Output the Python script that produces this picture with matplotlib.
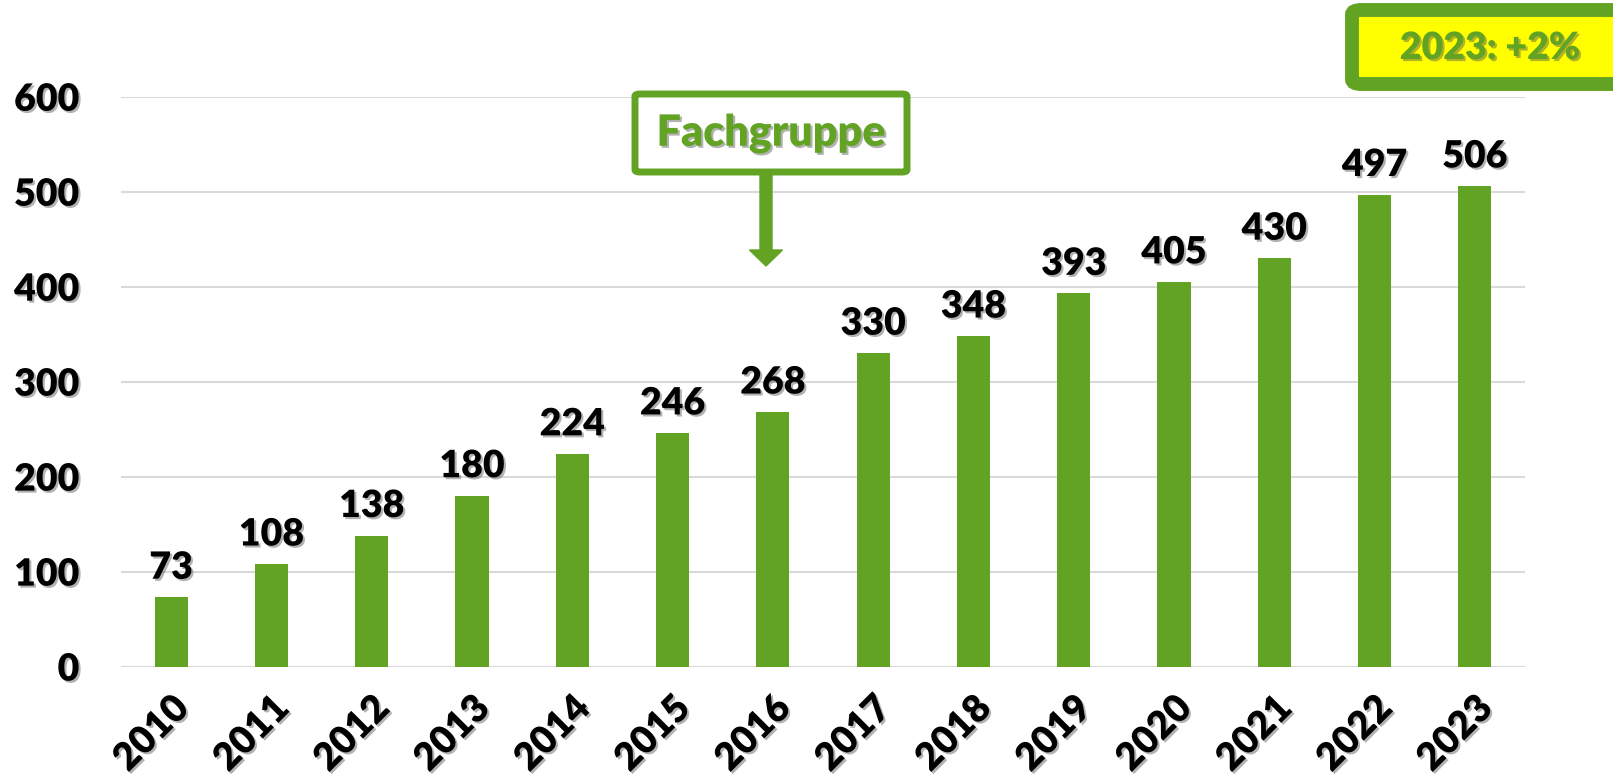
import matplotlib.pyplot as plt
import matplotlib.patheffects as pe
from matplotlib.patches import FancyBboxPatch, FancyArrow

# data
years = ['2010', '2011', '2012', '2013', '2014', '2015', '2016',
         '2017', '2018', '2019', '2020', '2021', '2022', '2023']
members = [73, 108, 138, 180, 224, 246, 268, 330, 348, 393, 405, 430, 497, 506]
y_ticks = [0, 100, 200, 300, 400, 500, 600]

green = '#62A323'
font = 'Lato'
weight = 'heavy'
shadow = [pe.withSimplePatchShadow(offset=(1.5, -1.5), shadow_rgbFace='#555555', alpha=0.45)]

W, H = 1613, 782
fig = plt.figure(figsize=(W / 100, H / 100), dpi=100)
ax = fig.add_axes([121 / W, 1 - 666.6 / H, (1525 - 121) / W, (666.6 - 96.7) / H])

x = range(len(years))
ax.bar(x, members, width=0.33, color=green, zorder=3)
ax.set_xlim(-0.5, len(years) - 0.5)
ax.set_ylim(0, 600)
ax.set_yticks(y_ticks)
ax.set_xticks(list(x))
ax.set_xticklabels(years, rotation=45, ha='right', rotation_mode='anchor')
ax.grid(axis='y', color='#D9D9D9', linewidth=1.5, zorder=0)
for s in ax.spines.values():
    s.set_visible(False)
ax.tick_params(length=0)
ax.tick_params(axis='y', pad=30)
ax.tick_params(axis='x', pad=17)
for lab in ax.get_xticklabels() + ax.get_yticklabels():
    lab.set_fontfamily(font)
    lab.set_fontweight(weight)
    lab.set_fontsize(27)
    lab.set_path_effects(shadow)
for lab in ax.get_xticklabels():
    lab.set_fontsize(27.5)

for i, v in enumerate(members):
    ax.annotate(str(v), (i, v), xytext=(0, 9), textcoords='offset points',
                ha='center', va='bottom', fontsize=27, fontweight=weight,
                fontfamily=font, path_effects=shadow)

# "Fachgruppe" callout with arrow (figure pixel coords)
tr = fig.transFigure
fb = FancyBboxPatch((635 / W, 1 - 172 / H), (907 - 635) / W, (172 - 94) / H,
                    boxstyle='round,pad=0,rounding_size=0.003', transform=tr,
                    facecolor='white', edgecolor=green, linewidth=5, zorder=5)
fig.patches.append(fb)
fig.text(771 / W, 1 - 133 / H, 'Fachgruppe', ha='center', va='center',
         fontsize=31, fontweight=weight, fontfamily=font, color=green,
         path_effects=shadow, zorder=6)
arr = FancyArrow(766 / W, 1 - 175 / H, 0, -(266 - 175) / H, width=12 / W,
                 head_width=33 / W, head_length=16 / H, length_includes_head=True,
                 transform=tr, color=green, zorder=5)
fig.patches.append(arr)

# "2023: +2%" highlight box top right
yb = FancyBboxPatch((1352 / W, 1 - 84 / H), (1640 - 1352) / W, (84 - 10) / H,
                    boxstyle='round,pad=0,rounding_size=0.006', transform=tr,
                    facecolor='#FFFF00', edgecolor=green, linewidth=10, zorder=5)
fig.patches.append(yb)
fig.text(1490 / W, 1 - 48 / H, '2023: +2%', ha='center', va='center',
         fontsize=27, fontweight=weight, fontfamily=font, color=green,
         path_effects=shadow, zorder=6)

fig.savefig('out.png', dpi=100)
